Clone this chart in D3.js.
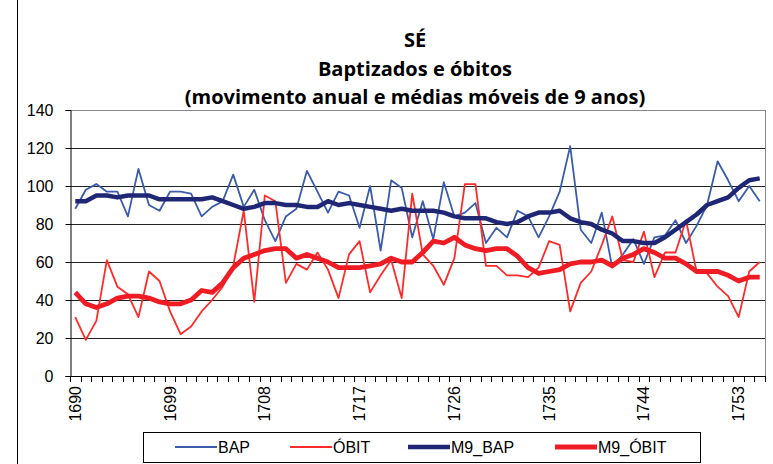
<!DOCTYPE html>
<html>
<head>
<meta charset="utf-8">
<script src="https://cdn.jsdelivr.net/npm/d3@7"></script>
<style>
  body { margin: 0; background: #fff; }
  svg { display: block; }
</style>
</head>
<body>
<div id="chart"></div>
<script>
// data
var years = d3.range(1690, 1756);
var tickYears = [1690, 1699, 1708, 1717, 1726, 1735, 1744, 1753];
var yTicks = [0, 20, 40, 60, 80, 100, 120, 140];

var bap = [88, 98, 101, 97, 97, 84, 109, 90, 87, 97,
  97, 96, 84, 89, 92, 106, 89, 98, 82, 71,
  84, 88, 108, 97, 86, 97, 95, 78, 100, 66,
  103, 99, 73, 92, 72, 102, 84, 86, 91, 70,
  78, 73, 87, 84, 73, 84, 97, 121, 77, 70,
  86, 57, 64, 72, 59, 73, 74, 82, 70, 79,
  90, 113, 103, 92, 100, 92];
var obit = [31, 19, 29, 61, 47, 43, 31, 55, 50, 34,
  22, 26, 34, 40, 47, 58, 87, 39, 95, 92,
  49, 59, 56, 65, 56, 41, 64, 71, 44, 53,
  61, 41, 96, 64, 58, 48, 62, 101, 101, 58,
  58, 53, 53, 52, 57, 71, 69, 34, 49, 55,
  69, 84, 61, 60, 76, 52, 65, 65, 82, 55,
  54, 47, 42, 31, 55, 60];
var m9bap = [92, 92, 95, 95, 94, 95, 95, 95, 93, 93,
  93, 93, 93, 94, 92, 90, 88, 89, 91, 91,
  90, 90, 89, 89, 92, 90, 91, 90, 89, 88,
  87, 88, 87, 87, 87, 86, 84, 83, 83, 83,
  81, 80, 81, 84, 86, 86, 87, 83, 81, 80,
  77, 75, 71, 71, 70, 70, 73, 77, 81, 85,
  90, 92, 94, 99, 103, 104];
var m9obit = [44, 38, 36, 38, 41, 42, 42, 41, 39, 38,
  38, 40, 45, 44, 49, 57, 62, 64, 66, 67,
  67, 62, 64, 62, 60, 57, 57, 57, 58, 59,
  62, 60, 60, 65, 71, 70, 73, 69, 67, 66,
  67, 67, 63, 57, 54, 55, 56, 59, 60, 60,
  61, 58, 62, 64, 67, 65, 62, 62, 59, 55,
  55, 55, 53, 50, 52, 52];

var seriesNames = ["BAP", "ÓBIT", "M9_BAP", "M9_ÓBIT"];
var seriesValues = [bap, obit, m9bap, m9obit];
var seriesColors = ["#3b5cab", "#ff2a2a", "#1f2775", "#ef1c24"];
var seriesWidths = [1.8, 1.8, 4.5, 4.8];

var width = 773;
var height = 464;
var plot = { left: 70, top: 110, right: 765, bottom: 376 };

var svg = d3.select("#chart").append("svg")
  .attr("width", width)
  .attr("height", height);

svg.append("rect")
  .attr("width", width)
  .attr("height", height)
  .attr("fill", "#fff");

// frame line on the left of the page
svg.append("line")
  .attr("x1", 17.5).attr("x2", 17.5)
  .attr("y1", 0).attr("y2", height)
  .attr("stroke", "#000").attr("stroke-width", 1);

//---TITLES
var titles = ["SÉ", "Baptizados e óbitos", "(movimento anual e médias móveis de 9 anos)"];
svg.append("g").selectAll("text")
  .data(titles)
  .join("text")
  .attr("x", 415)
  .attr("y", function(d, i){ return 47 + i * 28.5; })
  .attr("text-anchor", "middle")
  .attr("font-family", "'Open Sans', sans-serif")
  .attr("font-weight", "bold")
  .attr("font-size", 20)
  .attr("fill", "#000")
  .text(function(d){ return d; });

//---SCALES
var x = d3.scaleBand()
  .domain(years)
  .range([plot.left, plot.right]);

var y = d3.scaleLinear()
  .domain([0, 140])
  .range([plot.bottom, plot.top]);

// grid
svg.append("g").selectAll("line")
  .data(yTicks.slice(1))
  .join("line")
  .attr("x1", plot.left).attr("x2", plot.right)
  .attr("y1", function(d){ return Math.round(y(d)) + 0.5; })
  .attr("y2", function(d){ return Math.round(y(d)) + 0.5; })
  .attr("stroke", function(d){ return d === 140 ? "#888" : "#222"; })
  .attr("stroke-width", 1);

// right border of plot
svg.append("line")
  .attr("x1", plot.right + 0.5).attr("x2", plot.right + 0.5)
  .attr("y1", plot.top).attr("y2", plot.bottom)
  .attr("stroke", "#888");

//---AXES
var yAxis = svg.append("g")
  .attr("transform", "translate(" + (plot.left + 0.5) + ",0)")
  .call(d3.axisLeft(y).tickValues(yTicks).tickSize(5).tickPadding(12));
yAxis.selectAll("text")
  .attr("font-family", "'Liberation Sans', Arial, sans-serif")
  .attr("font-size", 16)
  .attr("fill", "#000");
yAxis.selectAll("line, path").attr("stroke", "#000");

// x axis: ticks on category boundaries
var xg = svg.append("g");
xg.append("line")
  .attr("x1", plot.left).attr("x2", plot.right)
  .attr("y1", Math.round(plot.bottom) + 0.5).attr("y2", Math.round(plot.bottom) + 0.5)
  .attr("stroke", "#000");
xg.selectAll("line.tick")
  .data(years.concat([1756]))
  .join("line")
  .attr("class", "tick")
  .attr("x1", function(d){ return Math.round(d === 1756 ? plot.right : x(d)) + 0.5; })
  .attr("x2", function(d){ return Math.round(d === 1756 ? plot.right : x(d)) + 0.5; })
  .attr("y1", plot.bottom).attr("y2", plot.bottom + 6)
  .attr("stroke", "#000");
xg.selectAll("text")
  .data(tickYears)
  .join("text")
  .attr("transform", function(d){
    return "translate(" + (x(d) + x.bandwidth() / 2 + 5.5) + "," + (plot.bottom + 10) + ") rotate(-90)";
  })
  .attr("text-anchor", "end")
  .attr("font-family", "'Liberation Sans', Arial, sans-serif")
  .attr("font-size", 16)
  .attr("fill", "#000")
  .text(function(d){ return d; });

//---LINES
var line = d3.line()
  .x(function(d, i){ return x(years[i]) + x.bandwidth() / 2; })
  .y(function(d){ return y(d); });

svg.append("g").selectAll("path")
  .data(seriesValues)
  .join("path")
  .attr("d", line)
  .attr("fill", "none")
  .attr("stroke", function(d, i){ return seriesColors[i]; })
  .attr("stroke-width", function(d, i){ return seriesWidths[i]; })
  .attr("stroke-linejoin", "round");

//---LEGEND
var legend = svg.append("g");
legend.append("rect")
  .attr("x", 143.5).attr("y", 432.5)
  .attr("width", 557).attr("height", 30)
  .attr("fill", "#fff").attr("stroke", "#000");

var legendX = [175, 290, 408, 555];
var item = legend.selectAll("g.item")
  .data(seriesNames)
  .join("g")
  .attr("class", "item")
  .attr("transform", function(d, i){ return "translate(" + legendX[i] + ",447)"; });
item.append("line")
  .attr("x1", 0).attr("x2", 42)
  .attr("stroke", function(d, i){ return seriesColors[i]; })
  .attr("stroke-width", function(d, i){ return seriesWidths[i]; });
item.append("text")
  .attr("x", 43).attr("y", 6)
  .attr("font-family", "'Liberation Sans', Arial, sans-serif")
  .attr("font-size", 16)
  .attr("fill", "#000")
  .text(function(d){ return d; });
</script>
</body>
</html>
